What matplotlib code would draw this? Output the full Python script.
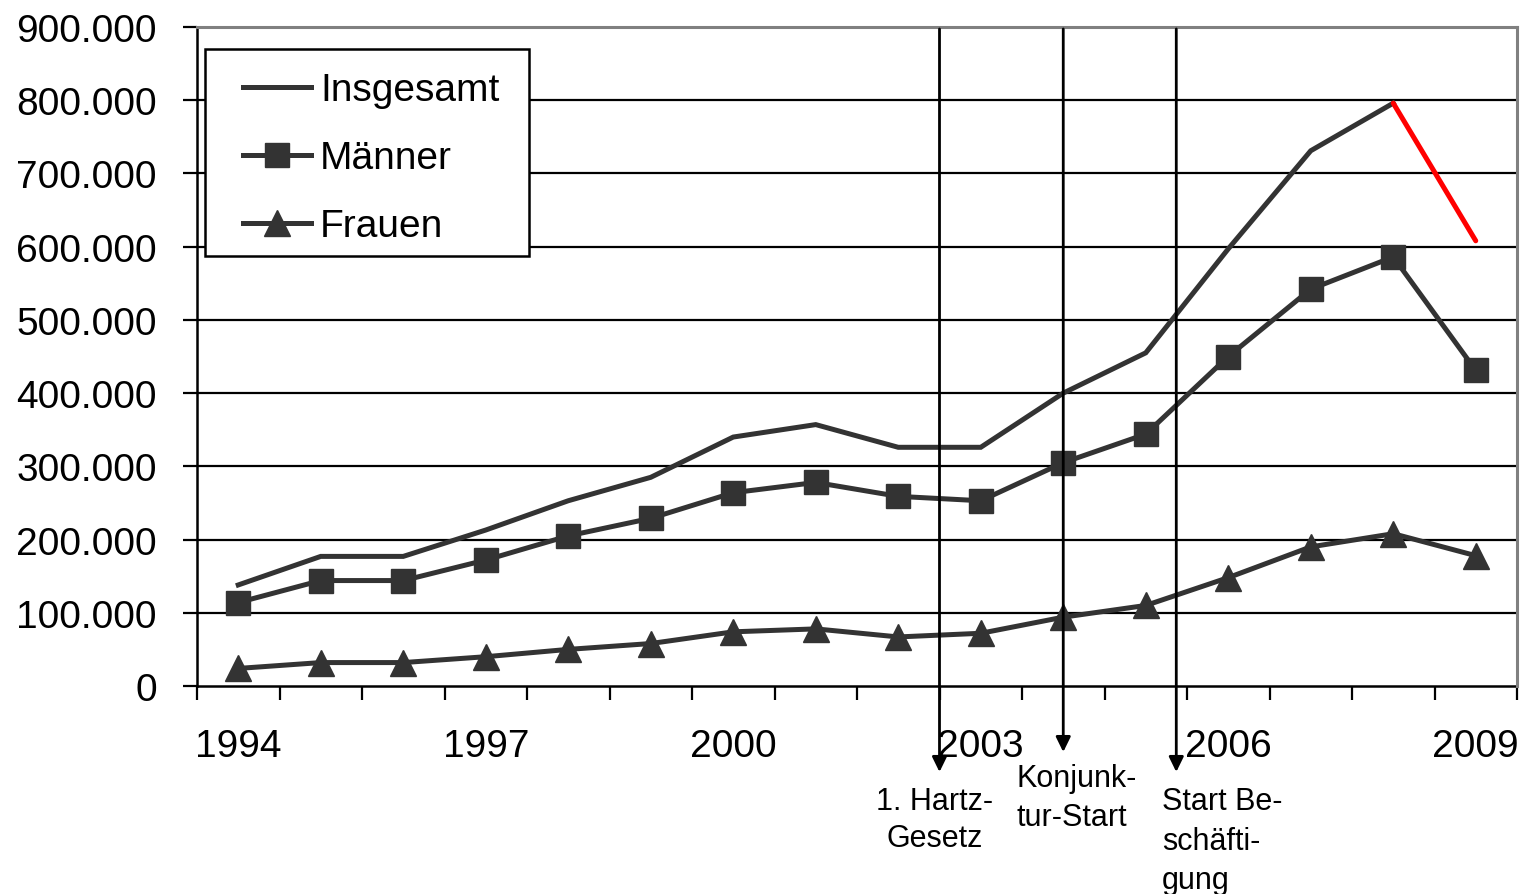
import matplotlib
matplotlib.use("Agg")
import matplotlib.pyplot as plt
from matplotlib.patches import Rectangle
from matplotlib.ticker import FuncFormatter, MultipleLocator, FixedLocator

plt.rcParams['font.family'] = ['Liberation Sans', 'DejaVu Sans']

years = list(range(1994, 2010))
insgesamt = [138000, 177000, 177000, 213000, 253000, 285000, 340000, 357000,
             326000, 326000, 400000, 455000, 597000, 731000, 796000, 608000]
maenner = [114000, 144000, 144000, 172000, 205000, 229000, 264000, 278000,
           259000, 253000, 305000, 344000, 450000, 542000, 586000, 431000]
frauen = [24000, 32000, 32000, 40000, 50000, 58000, 74000, 78000,
          67000, 72000, 94000, 110000, 148000, 190000, 208000, 178000]
series_labels = ["Insgesamt", "Männer", "Frauen"]
year_labels = ["1994", "1997", "2000", "2003", "2006", "2009"]
event_labels = ["1. Hartz-\nGesetz", "Konjunk-\ntur-Start", "Start Be-\nschäfti-\ngung"]
event_positions = [8.5, 10.0, 11.37]

dark = "#333333"
fig = plt.figure(figsize=(15.22, 8.95), dpi=100)
ax = fig.add_axes([197/1522, 1-687/895, 1320/1522, 659/895])

x = list(range(len(years)))
ax.plot(x[:-1], insgesamt[:-1], color=dark, lw=3.6, solid_joinstyle='miter',
        label=series_labels[0], zorder=4)
ax.plot(x[-2:], insgesamt[-2:], color="#ff0000", lw=3.6, solid_capstyle='round', zorder=4)
ax.plot(x, maenner, color=dark, lw=3.6, marker='s', ms=17, label=series_labels[1], zorder=4)
ax.plot(x, frauen, color=dark, lw=3.6, marker='^', ms=19, label=series_labels[2], zorder=4)

ax.set_xlim(-0.5, 15.5)
ax.set_ylim(0, 900000)
ax.yaxis.set_major_locator(MultipleLocator(100000))
ax.yaxis.set_major_formatter(FuncFormatter(lambda v, p: f"{int(v):,}".replace(",", ".")))
for v in range(100000, 900000, 100000):
    ax.axhline(v, color='black', lw=1.6, zorder=1)

label_pos = [years.index(int(s)) for s in year_labels]
ax.xaxis.set_major_locator(FixedLocator(label_pos))
ax.set_xticklabels(year_labels)
ax.xaxis.set_minor_locator(FixedLocator([i - 0.5 for i in range(len(years) + 1)]))
ax.tick_params(axis='x', which='major', length=0, pad=30, labelsize=28)
ax.tick_params(axis='x', which='minor', length=10, width=1.6, direction='out')
ax.tick_params(axis='y', which='major', length=10, width=1.6, direction='out', pad=19, labelsize=28)

for s in ['left', 'bottom']:
    ax.spines[s].set_linewidth(1.8)
    ax.spines[s].set_color('black')
for s in ['top', 'right']:
    ax.spines[s].set_linewidth(2.2)
    ax.spines[s].set_color('#808080')
    ax.spines[s].set_zorder(5)

# legend box
ax.add_patch(Rectangle((0.00606, 0.6525), 0.2455, 0.3141, transform=ax.transAxes,
                       facecolor='white', edgecolor='black', lw=1.8, zorder=6))
leg = ax.legend(loc='upper left', bbox_to_anchor=(0.0348, 0.931), borderaxespad=0,
                fontsize=28, frameon=False, handlelength=1.75, handletextpad=0.23,
                borderpad=0, labelspacing=0.82)
leg.set_zorder(7)

trans = ax.get_xaxis_transform()
tips = [-0.1305, -0.1002, -0.1305]
for pos, tip in zip(event_positions, tips):
    ax.annotate("", xy=(pos, tip), xytext=(pos, 0.997), xycoords=trans, textcoords=trans,
                arrowprops=dict(arrowstyle='-|>,head_length=0.45,head_width=0.22',
                                color='black', lw=2, mutation_scale=20,
                                shrinkA=0, shrinkB=0), annotation_clip=False, zorder=8)

ax.text(8.445, -0.152, event_labels[0], transform=trans, ha='center', va='top',
        fontsize=22, linespacing=1.3, multialignment='center')
ax.text(10.167, -0.117, event_labels[1], transform=trans, ha='center', va='top',
        fontsize=22, linespacing=1.38, multialignment='left')
ax.text(11.197, -0.152, event_labels[2], transform=trans, ha='left', va='top',
        fontsize=22, linespacing=1.42, multialignment='left')

fig.savefig("out.png", dpi=100)
